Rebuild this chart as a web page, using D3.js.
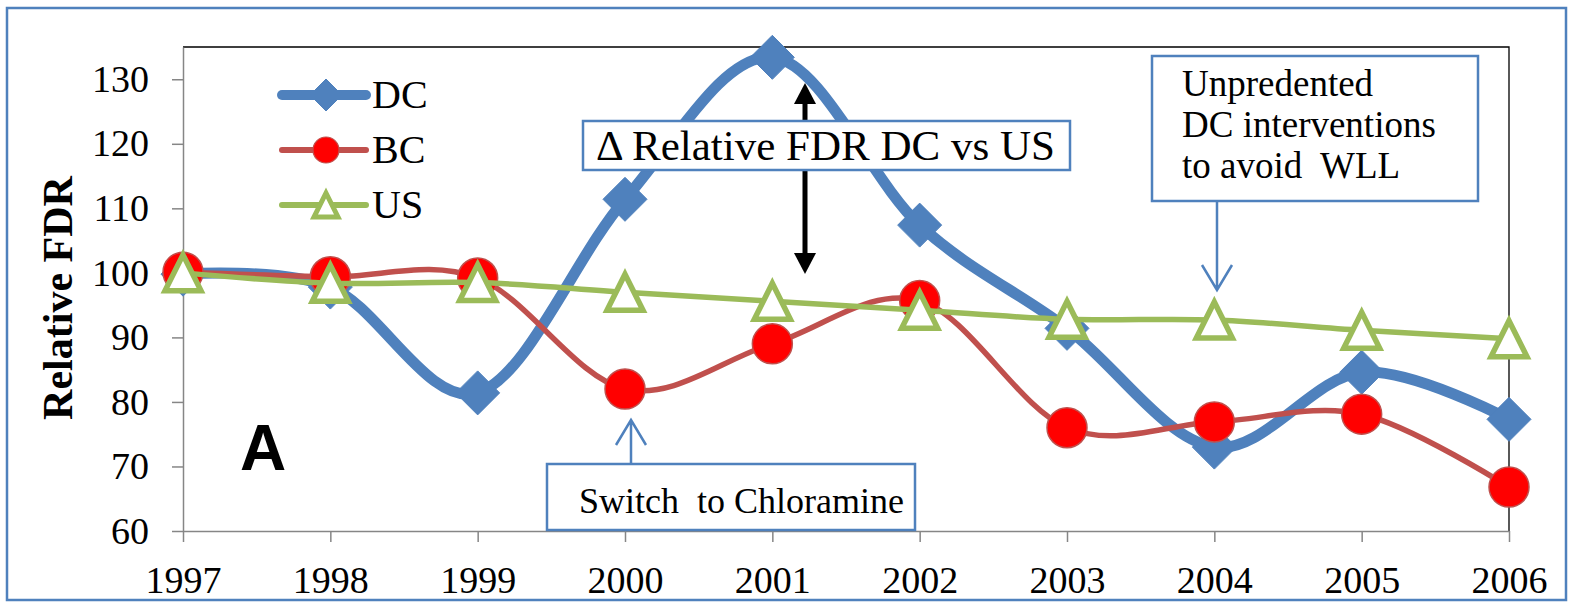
<!DOCTYPE html>
<html>
<head>
<meta charset="utf-8">
<script src="https://cdn.jsdelivr.net/npm/d3@7"></script>
<style>
  body { margin: 0; background: #fff; }
  svg text { font-family: "Liberation Serif", "Times New Roman", serif; }
</style>
</head>
<body>
<svg id="chart" width="1572" height="608"></svg>
<script>
// data
const years = [1997, 1998, 1999, 2000, 2001, 2002, 2003, 2004, 2005, 2006];
const dcValues = [99.8, 97.8, 81.4, 111.4, 133.4, 107.4, 91.4, 73.0, 84.6, 77.3];
const bcValues = [100.1, 99.4, 99.2, 82.0, 89.0, 95.7, 76.0, 76.9, 78.1, 66.8];
const usValues = [100.0, 98.4, 98.5, 97.0, 95.6, 94.2, 92.8, 92.7, 91.1, 89.8];
const seriesNames = ['DC', 'BC', 'US'];
const yTicks = [60, 70, 80, 90, 100, 110, 120, 130];

const blue = '#4F81BD', red = '#C0504D', green = '#9BBB59';

const svg = d3.select('#chart');

// outer frame
svg.append('rect')
  .attr('x', 7).attr('y', 8).attr('width', 1559).attr('height', 592)
  .attr('fill', 'none').attr('stroke', blue).attr('stroke-width', 2.5);

const plotL = 183, plotR = 1509, plotT = 47, plotB = 531;

const x = d3.scalePoint().domain(years).range([plotL, plotR]).padding(0);
const y = d3.scaleLinear().domain([60, 135]).range([plotB, plotT]);

// plot area border (top and right in black)
svg.append('path')
  .attr('d', `M${plotL},${plotT}H${plotR}V${plotB}`)
  .attr('fill', 'none').attr('stroke', '#000').attr('stroke-width', 1.3);

const yAxis = svg.append('g')
  .attr('transform', `translate(${plotL},0)`)
  .call(d3.axisLeft(y).tickValues(yTicks).tickSize(11).tickPadding(23).tickSizeOuter(0));
const xAxis = svg.append('g')
  .attr('transform', `translate(0,${plotB})`)
  .call(d3.axisBottom(x).tickSize(11).tickPadding(24).tickSizeOuter(0).tickFormat(d3.format('d')));

[yAxis, xAxis].forEach(ax => {
  ax.select('.domain').attr('stroke', '#868686').attr('stroke-width', 1.5);
  ax.selectAll('.tick line').attr('stroke', '#868686').attr('stroke-width', 1.5);
  ax.selectAll('.tick text')
    .attr('fill', '#000')
    .style('font-family', '"Liberation Serif", serif')
    .style('font-size', '38px');
});

svg.append('text')
  .attr('transform', 'translate(72,298) rotate(-90)')
  .attr('text-anchor', 'middle')
  .style('font-size', '42px').style('font-weight', 'bold')
  .text('Relative FDR');

// marker shapes
const diamond = h => `M0,${-h}L${h},0L0,${h}L${-h},0Z`;
const triangle = h => `M0,${-h}L${h},${h}L${-h},${h}Z`;

const line = d3.line()
  .x((d, i) => x(years[i]))
  .y(d => y(d))
  .curve(d3.curveCardinal.tension(0));

function drawSeries (values, opts) {
  const g = svg.append('g');
  g.append('path')
    .attr('d', line(values))
    .attr('fill', 'none')
    .attr('stroke', opts.color)
    .attr('stroke-width', opts.width)
    .attr('stroke-linecap', 'round');
  const m = g.selectAll('.m').data(values).enter();
  if (opts.marker === 'circle') {
    m.append('circle')
      .attr('cx', (d, i) => x(years[i])).attr('cy', d => y(d))
      .attr('r', 20).attr('fill', '#FF0000').attr('stroke', red).attr('stroke-width', 1.5);
  } else {
    m.append('path')
      .attr('transform', (d, i) => `translate(${x(years[i])},${y(d)})`)
      .attr('d', opts.marker === 'diamond' ? diamond(22) : triangle(18))
      .attr('fill', opts.marker === 'diamond' ? blue : '#fff')
      .attr('stroke', opts.color)
      .attr('stroke-width', opts.marker === 'diamond' ? 1 : 5.5)
      .attr('stroke-linejoin', 'miter');
  }
}

drawSeries(dcValues, { color: blue, width: 11, marker: 'diamond' });
drawSeries(bcValues, { color: red, width: 5.5, marker: 'circle' });
drawSeries(usValues, { color: green, width: 5.5, marker: 'triangle' });

// legend
const legendY = [95, 150, 205];
const legendStyle = [
  { color: blue, width: 10, marker: 'diamond' },
  { color: red, width: 6, marker: 'circle' },
  { color: green, width: 6, marker: 'triangle' }
];
seriesNames.forEach((name, i) => {
  const st = legendStyle[i];
  const g = svg.append('g').attr('transform', `translate(0,${legendY[i]})`);
  g.append('line').attr('x1', 282).attr('x2', 366).attr('y1', 0).attr('y2', 0)
    .attr('stroke', st.color).attr('stroke-width', st.width).attr('stroke-linecap', 'round');
  if (st.marker === 'circle') {
    g.append('circle').attr('cx', 326).attr('cy', 0).attr('r', 13)
      .attr('fill', '#FF0000').attr('stroke', red).attr('stroke-width', 1.2);
  } else {
    g.append('path').attr('transform', 'translate(326,0)')
      .attr('d', st.marker === 'diamond' ? diamond(16) : triangle(12))
      .attr('fill', st.marker === 'diamond' ? blue : '#fff')
      .attr('stroke', st.color).attr('stroke-width', st.marker === 'diamond' ? 1 : 5);
  }
  g.append('text').attr('x', 372).attr('y', 13)
    .style('font-size', '40px').text(name);
});

// panel letter
svg.append('text').attr('x', 240).attr('y', 470)
  .style('font-family', '"Liberation Sans", Arial, sans-serif')
  .style('font-size', '64px').style('font-weight', 'bold')
  .text('A');

// double arrow DC vs US
const arrowX = 805;
svg.append('line').attr('x1', arrowX).attr('x2', arrowX).attr('y1', 95).attr('y2', 262)
  .attr('stroke', '#000').attr('stroke-width', 5);
svg.append('path').attr('d', `M${arrowX},83L${arrowX + 11},104L${arrowX - 11},104Z`).attr('fill', '#000');
svg.append('path').attr('d', `M${arrowX},274L${arrowX + 11},253L${arrowX - 11},253Z`).attr('fill', '#000');

// annotation boxes
function box (x0, y0, w, h) {
  svg.append('rect').attr('x', x0).attr('y', y0).attr('width', w).attr('height', h)
    .attr('fill', '#fff').attr('stroke', blue).attr('stroke-width', 2.5);
}
box(583, 121, 487, 49);
svg.append('text').attr('x', 596).attr('y', 160)
  .style('font-size', '43px').text('\u0394 Relative FDR DC vs US');

box(1152, 56, 326, 145);
['Unpredented', 'DC interventions', 'to avoid\u00a0 WLL'].forEach((t, i) => {
  svg.append('text').attr('x', 1182).attr('y', 96 + i * 41)
    .style('font-size', '37px').text(t);
});

box(547, 464, 368, 66);
svg.append('text').attr('x', 579).attr('y', 513)
  .style('font-size', '36px').text('Switch\u00a0 to Chloramine');

// blue pointer arrows
function pointer (px, y0, y1) {
  const dir = y1 < y0 ? 1 : -1;
  svg.append('path')
    .attr('d', `M${px},${y0}L${px},${y1}M${px - 15},${y1 + dir * 25}L${px},${y1}L${px + 15},${y1 + dir * 25}`)
    .attr('fill', 'none').attr('stroke', blue).attr('stroke-width', 2.5);
}
pointer(631, 464, 420);
pointer(1217, 201, 290);
</script>
</body>
</html>
